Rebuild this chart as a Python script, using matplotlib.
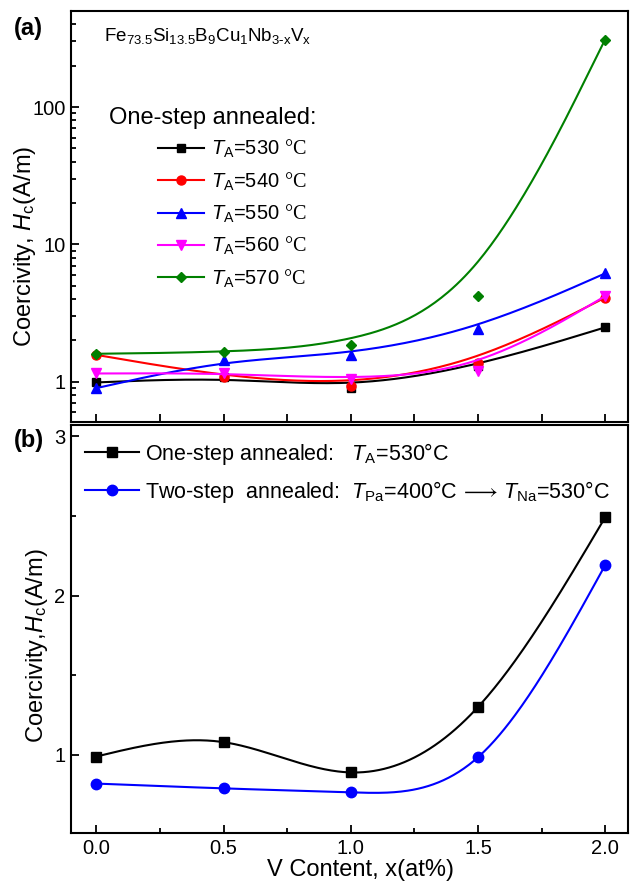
import numpy as np
import matplotlib
matplotlib.use('Agg')
import matplotlib.pyplot as plt
from matplotlib.lines import Line2D
from matplotlib.ticker import FixedLocator, FixedFormatter, LogLocator, NullFormatter, MultipleLocator

plt.rcParams['font.family'] = ['Liberation Sans', 'DejaVu Sans']
plt.rcParams['mathtext.fontset'] = 'custom'
plt.rcParams['mathtext.rm'] = 'Liberation Serif'
plt.rcParams['mathtext.it'] = 'Liberation Sans:italic'
plt.rcParams['mathtext.sf'] = 'Liberation Sans'
plt.rcParams['mathtext.bf'] = 'Liberation Sans:bold'

v_content = [0.0, 0.5, 1.0, 1.5, 2.0]

# (a) one-step annealed, coercivity vs V content at several T_A
hc_530 = [0.99, 1.08, 0.90, 1.30, 2.49]
hc_540 = [1.57, 1.09, 0.94, 1.38, 4.10]
hc_550 = [0.90, 1.45, 1.57, 2.41, 6.15]
hc_560 = [1.15, 1.16, 1.04, 1.20, 4.20]
hc_570 = [1.60, 1.64, 1.85, 4.19, 310.0]
temps_a = ['530', '540', '550', '560', '570']

# (b) one-step vs two-step annealing
hc_one_step = [0.99, 1.08, 0.89, 1.30, 2.49]
hc_two_step = [0.82, 0.79, 0.765, 0.985, 2.19]


def bspline(x, y, n=60):
    # uniform cubic B-spline with repeated end points (curve approximates the points)
    px = np.r_[x[0], x[0], x, x[-1], x[-1]]
    py = np.r_[y[0], y[0], y, y[-1], y[-1]]
    t = np.linspace(0, 1, n)
    b0 = (1 - t) ** 3 / 6
    b1 = (3 * t ** 3 - 6 * t ** 2 + 4) / 6
    b2 = (-3 * t ** 3 + 3 * t ** 2 + 3 * t + 1) / 6
    b3 = t ** 3 / 6
    xs, ys = [], []
    for i in range(len(px) - 3):
        xs.append(b0 * px[i] + b1 * px[i + 1] + b2 * px[i + 2] + b3 * px[i + 3])
        ys.append(b0 * py[i] + b1 * py[i + 1] + b2 * py[i + 2] + b3 * py[i + 3])
    return np.concatenate(xs), np.concatenate(ys)


def natural_spline(x, y, n=300):
    x = np.asarray(x, float)
    y = np.asarray(y, float)
    h = np.diff(x)
    N = len(x)
    A = np.zeros((N, N))
    r = np.zeros(N)
    A[0, 0] = A[-1, -1] = 1
    for i in range(1, N - 1):
        A[i, i - 1] = h[i - 1]
        A[i, i] = 2 * (h[i - 1] + h[i])
        A[i, i + 1] = h[i]
        r[i] = 3 * ((y[i + 1] - y[i]) / h[i] - (y[i] - y[i - 1]) / h[i - 1])
    c = np.linalg.solve(A, r)
    b = (y[1:] - y[:-1]) / h - h * (2 * c[:-1] + c[1:]) / 3
    d = (c[1:] - c[:-1]) / (3 * h)
    xs = np.linspace(x[0], x[-1], n)
    idx = np.clip(np.searchsorted(x, xs) - 1, 0, N - 2)
    dx = xs - x[idx]
    ys = y[idx] + b[idx] * dx + c[idx] * dx ** 2 + d[idx] * dx ** 3
    return xs, ys


W, H = 633, 885
fig = plt.figure(figsize=(W / 100, H / 100), dpi=100)
ax1 = fig.add_axes([71 / W, 1 - 422 / H, 557 / W, 411 / H])
ax2 = fig.add_axes([71 / W, 1 - 833 / H, 557 / W, 408 / H])

# ---- panel (a)
series_a = [hc_530, hc_540, hc_550, hc_560, hc_570]
colors_a = ['black', 'red', 'blue', 'magenta', 'green']
markers_a = ['s', 'o', '^', 'v', 'D']
msizes_a = [6, 6.5, 7, 7, 5.5]
handles_a = []
for vals, col, mk, ms, t in zip(series_a, colors_a, markers_a, msizes_a, temps_a):
    sx, sy = bspline(np.array(v_content), np.log10(vals))
    ax1.plot(sx, 10 ** sy, color=col, lw=1.5)
    ax1.plot(v_content, vals, ls='none', marker=mk, ms=ms, color=col)
    handles_a.append(Line2D([], [], color=col, lw=1.5, marker=mk, ms=ms,
                            label=r'$\mathit{T}_\mathsf{A}$=' + t + r' $\mathrm{°C}$'))

ax1.set_yscale('log')
ax1.set_xlim(-0.1, 2.09)
ax1.set_ylim(0.51, 500)
ax1.yaxis.set_major_locator(FixedLocator([1, 10, 100]))
ax1.yaxis.set_major_formatter(FixedFormatter(['1', '10', '100']))
ax1.yaxis.set_minor_locator(LogLocator(base=10, subs=np.arange(2, 10)))
ax1.yaxis.set_minor_formatter(NullFormatter())
ax1.tick_params(axis='x', labelbottom=False)
ax1.set_ylabel(r'Coercivity, $\mathit{H}_\mathsf{c}$(A/m)', fontsize=17)
ax1.yaxis.set_label_coords(-0.059, 0.428)

ax1.text(104 / W, 1 - 36 / H, r'Fe$_\mathsf{73.5}$Si$_\mathsf{13.5}$B$_\mathsf{9}$Cu$_\mathsf{1}$Nb$_\mathsf{3\text{-}x}$V$_\mathsf{x}$',
         transform=fig.transFigure, fontsize=13.5, va='center', ha='left')
ax1.text(109 / W, 1 - 118 / H, 'One-step annealed:', transform=fig.transFigure,
         fontsize=17, va='center', ha='left')
ax1.legend(handles=handles_a, loc='upper left', bbox_to_anchor=(158 / W, 1 - 138 / H),
           bbox_transform=fig.transFigure, frameon=False, fontsize=14.5,
           handlelength=2.3, handletextpad=0.35, labelspacing=0.5,
           borderpad=0, borderaxespad=0)

# ---- panel (b)
for vals, col, mk, ms, lab in [
        (hc_one_step, 'black', 's', 7, r'One-step annealed:   $\mathit{T}_\mathsf{A}$=530°C'),
        (hc_two_step, 'blue', 'o', 7.5, r'Two-step  annealed:  $\mathit{T}_\mathsf{Pa}$=400°C$\,\longrightarrow\,\mathit{T}_\mathsf{Na}$=530°C')]:
    sx, sy = natural_spline(v_content, vals)
    ax2.plot(sx, sy, color=col, lw=1.5)
    ax2.plot(v_content, vals, ls='none', marker=mk, ms=ms, color=col)
    ax2.plot([], [], color=col, lw=1.5, marker=mk, ms=ms, label=lab)

ax2.set_xlim(-0.1, 2.09)
ax2.set_ylim(0.51, 3.07)
ax2.yaxis.set_major_locator(FixedLocator([1, 2, 3]))
ax2.yaxis.set_minor_locator(MultipleLocator(0.5))
ax2.set_xticks([0.0, 0.5, 1.0, 1.5, 2.0], ['0.0', '0.5', '1.0', '1.5', '2.0'])
ax2.set_ylabel(r'Coercivity,$\mathit{H}_\mathsf{c}$(A/m)', fontsize=17)
ax2.yaxis.set_label_coords(-0.038, 0.458)
ax2.set_xlabel('V Content, x(at%)', fontsize=17)
ax2.xaxis.set_label_coords(0.519, -0.063)
ax2.legend(loc='upper left', bbox_to_anchor=(85 / W, 1 - 441 / H),
           bbox_transform=fig.transFigure, frameon=False, fontsize=15.5,
           handlelength=2.5, handletextpad=0.3, labelspacing=0.55,
           borderpad=0, borderaxespad=0)

for ax in (ax1, ax2):
    ax.xaxis.set_minor_locator(MultipleLocator(0.25))
    for s in ax.spines.values():
        s.set_linewidth(1.5)
    ax.tick_params(which='both', direction='in', top=False, right=False, width=1.3,
                   labelsize=14.5, pad=4)
    ax.tick_params(which='major', length=6)
    ax.tick_params(which='minor', length=3.5)

fig.text(14 / W, 1 - 28 / H, '(a)', fontsize=17, fontweight='bold', va='center', ha='left')
fig.text(14 / W, 1 - 440 / H, '(b)', fontsize=17, fontweight='bold', va='center', ha='left')

fig.savefig('out.png', dpi=100)
